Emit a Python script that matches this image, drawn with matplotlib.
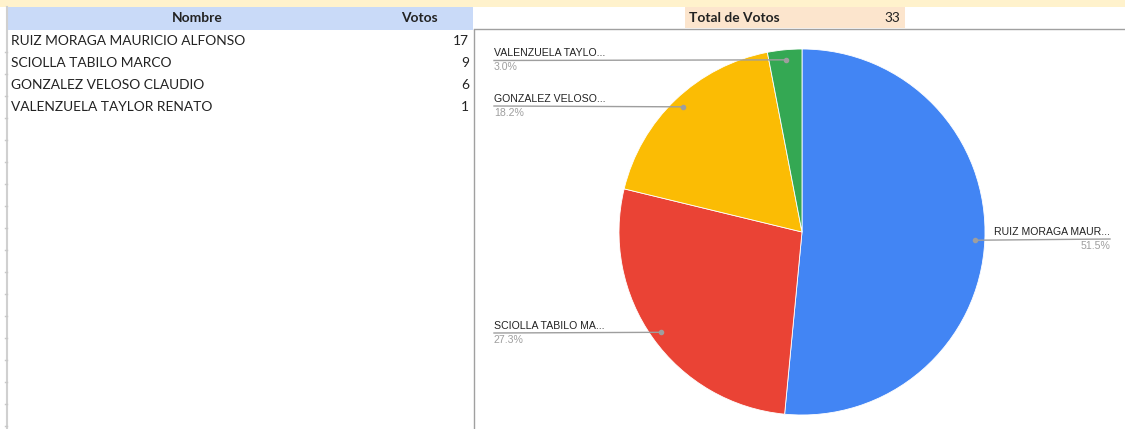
import numpy as np
import matplotlib.pyplot as plt

nombres = ["RUIZ MORAGA MAURICIO ALFONSO", "SCIOLLA TABILO MARCO",
           "GONZALEZ VELOSO CLAUDIO", "VALENZUELA TAYLOR RENATO"]
votos = [17, 9, 6, 1]
etiquetas = ["RUIZ MORAGA MAUR...", "SCIOLLA TABILO MA...",
             "GONZALEZ VELOSO...", "VALENZUELA TAYLO..."]
colores = ["#4285f4", "#ea4335", "#fbbc04", "#34a853"]

W, H = 1125, 429
fig = plt.figure(figsize=(W / 100, H / 100), dpi=100)
ax = fig.add_axes([0, 0, 1, 1])


def Y(y):
    # pixel row (from top) -> data y
    return H - y


# background bands
ax.add_patch(plt.Rectangle((0, Y(7)), W, 7, color="#fff2cc", lw=0, zorder=0))
ax.add_patch(plt.Rectangle((7, Y(30)), 466, 23, color="#c9daf8", lw=0, zorder=0))
ax.add_patch(plt.Rectangle((685, Y(28)), 220, 21, color="#fce5cd", lw=0, zorder=0))

# grid / frame lines
ax.plot([6.5, 6.5], [Y(7), 0], color="#d0d0d0", lw=1.5, zorder=1)
for yt in range(52, H, 22):
    ax.plot([4.5, 6.5], [Y(yt), Y(yt)], color="#c8c8c8", lw=1, zorder=1)
ax.plot([473.5, 473.5], [Y(30), 0], color="#a0a0a0", lw=1, zorder=1)
ax.plot([473.5, W], [Y(28.5), Y(28.5)], color="#a0a0a0", lw=1, zorder=1)

# table text
tfont = dict(family=["Lato", "DejaVu Sans"], fontsize=9.9, color="#222222")
ax.text(197, Y(18), "Nombre", ha="center", va="center", fontweight="bold", **tfont)
ax.text(419, Y(18), "Votos", ha="center", va="center", fontweight="bold", **tfont)
for i, (n, v) in enumerate(zip(nombres, votos)):
    yy = Y(41 + 22 * i)
    ax.text(11, yy, n, ha="left", va="center", **tfont)
    ax.text(469, yy, str(v), ha="right", va="center", **tfont)

total = sum(votos)
ax.text(689, Y(18), "Total de Votos", ha="left", va="center", fontweight="bold", **tfont)
ax.text(900, Y(18), str(total), ha="right", va="center", **tfont)

# pie
cx, cy, r = 802, Y(232), 183
wedges, _ = ax.pie(votos, colors=colores, startangle=90, counterclock=False,
                   center=(cx, cy), radius=r,
                   wedgeprops=dict(edgecolor="white", linewidth=0.6))

lfont = dict(family=["Liberation Sans", "DejaVu Sans"], fontsize=7.6)
# label rows (pixel from top) and side for each slice
label_y = [239, 333, 106, 60.5]
lados = ["right", "left", "left", "left"]
for w, v, lab, ly, lado in zip(wedges, votos, etiquetas, label_y, lados):
    ang = np.deg2rad((w.theta1 + w.theta2) / 2)
    dx = cx + 0.945 * r * np.cos(ang)
    dy = cy + 0.945 * r * np.sin(ang)
    pct = f"{100 * v / total:.1f}%"
    if lado == "right":
        x_end = 1110
        ax.plot([dx, x_end], [dy, Y(ly)], color="#9e9e9e", lw=1, zorder=3)
        ax.text(x_end, Y(ly) + 2, lab, ha="right", va="bottom", color="#222222", **lfont)
        ax.text(x_end, Y(ly) - 2, pct, ha="right", va="top", color="#9e9e9e", **lfont)
    else:
        x_end = 494
        ax.plot([x_end, dx], [Y(ly), dy], color="#9e9e9e", lw=1, zorder=3)
        ax.text(x_end, Y(ly) + 2, lab, ha="left", va="bottom", color="#222222", **lfont)
        ax.text(x_end, Y(ly) - 2, pct, ha="left", va="top", color="#9e9e9e", **lfont)
    ax.plot([dx], [dy], "o", color="#9e9e9e", markersize=3, zorder=4)

ax.set_xlim(0, W)
ax.set_ylim(0, H)
ax.set_aspect("auto")
ax.axis("off")

fig.savefig("out.png", dpi=100)
